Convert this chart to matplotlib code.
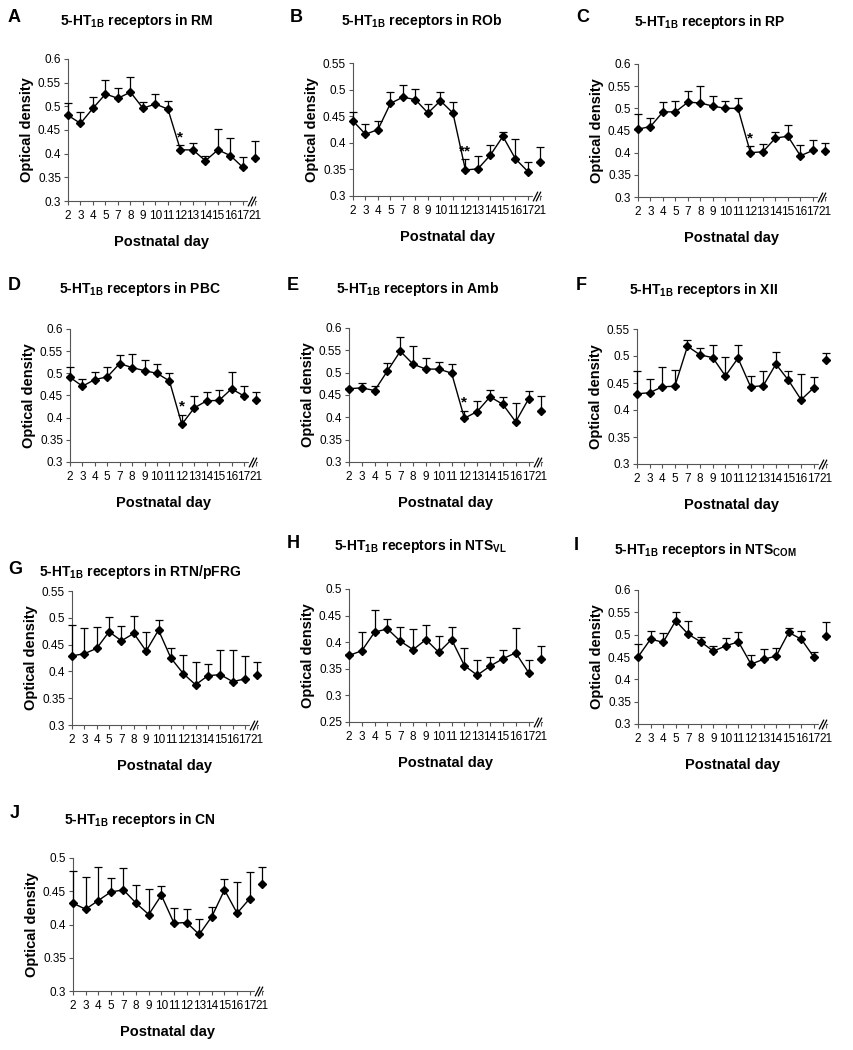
import matplotlib
matplotlib.use("Agg")
import matplotlib.pyplot as plt
import matplotlib.transforms as mtransforms
import numpy as np

plt.rcParams['font.family'] = ['Liberation Sans', 'DejaVu Sans']
plt.rcParams['mathtext.fontset'] = 'custom'
plt.rcParams['mathtext.rm'] = 'Liberation Sans:bold'
plt.rcParams['mathtext.bf'] = 'Liberation Sans:bold'

# ---------------- data ----------------
days = ['2', '3', '4', '5', '7', '8', '9', '10', '11', '12', '13', '14', '15', '16', '17', '21']

rm_mean = [0.481, 0.464, 0.496, 0.526, 0.517, 0.530, 0.496, 0.505, 0.494, 0.408, 0.408, 0.385, 0.408, 0.396, 0.371, 0.391]
rm_err = [0.025, 0.023, 0.023, 0.030, 0.022, 0.032, 0.014, 0.022, 0.018, 0.010, 0.014, 0.010, 0.045, 0.038, 0.022, 0.035]

rob_mean = [0.441, 0.416, 0.425, 0.474, 0.486, 0.481, 0.456, 0.479, 0.456, 0.349, 0.351, 0.377, 0.412, 0.370, 0.346, 0.363]
rob_err = [0.016, 0.020, 0.016, 0.022, 0.023, 0.021, 0.017, 0.016, 0.020, 0.020, 0.024, 0.019, 0.009, 0.037, 0.017, 0.029]

rp_mean = [0.453, 0.459, 0.492, 0.492, 0.514, 0.512, 0.505, 0.500, 0.500, 0.400, 0.402, 0.433, 0.437, 0.393, 0.405, 0.403]
rp_err = [0.035, 0.020, 0.022, 0.024, 0.024, 0.039, 0.023, 0.016, 0.023, 0.014, 0.017, 0.014, 0.026, 0.024, 0.023, 0.019]

pbc_mean = [0.491, 0.471, 0.486, 0.492, 0.522, 0.513, 0.506, 0.500, 0.483, 0.385, 0.422, 0.438, 0.439, 0.465, 0.449, 0.440]
pbc_err = [0.024, 0.016, 0.016, 0.023, 0.020, 0.031, 0.025, 0.022, 0.017, 0.022, 0.027, 0.020, 0.023, 0.038, 0.022, 0.018]

amb_mean = [0.464, 0.466, 0.460, 0.504, 0.548, 0.519, 0.508, 0.508, 0.499, 0.398, 0.413, 0.446, 0.429, 0.390, 0.441, 0.415]
amb_err = [0.002, 0.010, 0.010, 0.017, 0.031, 0.040, 0.024, 0.015, 0.020, 0.017, 0.024, 0.015, 0.017, 0.043, 0.018, 0.033]

xii_mean = [0.430, 0.432, 0.443, 0.444, 0.518, 0.502, 0.497, 0.463, 0.496, 0.443, 0.445, 0.485, 0.455, 0.419, 0.441, 0.492]
xii_err = [0.042, 0.026, 0.036, 0.030, 0.011, 0.012, 0.023, 0.035, 0.024, 0.020, 0.028, 0.022, 0.017, 0.048, 0.020, 0.013]

rtn_mean = [0.429, 0.433, 0.443, 0.474, 0.457, 0.471, 0.438, 0.477, 0.425, 0.396, 0.375, 0.392, 0.394, 0.381, 0.386, 0.394]
rtn_err = [0.057, 0.048, 0.039, 0.028, 0.027, 0.032, 0.035, 0.018, 0.019, 0.035, 0.042, 0.021, 0.046, 0.059, 0.043, 0.023]

ntsvl_mean = [0.375, 0.384, 0.419, 0.425, 0.402, 0.386, 0.405, 0.381, 0.405, 0.356, 0.338, 0.355, 0.369, 0.380, 0.343, 0.369]
ntsvl_err = [0.002, 0.035, 0.041, 0.019, 0.026, 0.039, 0.028, 0.030, 0.023, 0.033, 0.029, 0.018, 0.017, 0.047, 0.023, 0.024]

ntscom_mean = [0.450, 0.490, 0.483, 0.531, 0.501, 0.484, 0.463, 0.475, 0.484, 0.434, 0.445, 0.452, 0.505, 0.490, 0.450, 0.498]
ntscom_err = [0.028, 0.019, 0.020, 0.020, 0.030, 0.011, 0.012, 0.017, 0.021, 0.021, 0.022, 0.019, 0.009, 0.019, 0.011, 0.031]

cn_mean = [0.432, 0.423, 0.436, 0.449, 0.452, 0.432, 0.415, 0.444, 0.402, 0.403, 0.385, 0.412, 0.452, 0.417, 0.439, 0.461]
cn_err = [0.048, 0.049, 0.050, 0.021, 0.033, 0.028, 0.038, 0.014, 0.023, 0.021, 0.023, 0.014, 0.017, 0.047, 0.040, 0.026]

letters = ['A', 'B', 'C', 'D', 'E', 'F', 'G', 'H', 'I', 'J']
regions = ['RM', 'ROb', 'RP', 'PBC', 'Amb', 'XII', 'RTN/pFRG',
           r'NTS$_{\mathbf{VL}}$', r'NTS$_{\mathbf{COM}}$', 'CN']
means = [rm_mean, rob_mean, rp_mean, pbc_mean, amb_mean, xii_mean, rtn_mean, ntsvl_mean, ntscom_mean, cn_mean]
errs = [rm_err, rob_err, rp_err, pbc_err, amb_err, xii_err, rtn_err, ntsvl_err, ntscom_err, cn_err]
ylims = [(0.3, 0.6), (0.3, 0.55), (0.3, 0.6), (0.3, 0.6), (0.3, 0.6), (0.3, 0.55),
         (0.3, 0.55), (0.25, 0.5), (0.3, 0.6), (0.3, 0.5)]
stars = ['*', '**', '*', '*', '*', '', '', '', '', '']

# ---------------- layout (pixels) ----------------
W, H = 854, 1050
# left, right, top, bottom of plot areas
boxes = [(68, 256, 59, 201), (353, 541, 63, 196), (638, 826, 64, 197),
         (70, 257, 329, 462), (349, 542, 328, 462), (637, 827, 329, 464),
         (72, 258, 591, 725), (349, 542, 589, 722), (638, 827, 590, 724),
         (73, 263, 858, 991)]
letter_pos = [(8, 18), (290, 18), (576, 18), (8, 286), (287, 286), (576, 286),
              (8, 570), (287, 543), (574, 546), (10, 813)]
title_pos = [(137, 21), (422, 21), (710, 22), (140, 289), (418, 289), (703, 290),
             (140, 572), (420, 546), (705, 550), (140, 820)]

fig = plt.figure(figsize=(W / 100, H / 100), dpi=100)

for k in range(10):
    l, r, t, b = boxes[k]
    ax = fig.add_axes([l / W, 1 - b / H, (r - l) / W, (b - t) / H])
    x = np.arange(len(days))
    m = np.array(means[k])
    e = np.array(errs[k])
    # line for days 2..17, day 21 isolated
    ax.plot(x[:-1], m[:-1], color='black', lw=1.0, zorder=3)
    ax.errorbar(x, m, yerr=[np.zeros_like(e), e], fmt='none', ecolor='black',
                elinewidth=0.9, capsize=2.8, capthick=0.9, zorder=3, clip_on=False)
    ax.plot(x, m, ls='none', marker='D', markersize=4, color='black', zorder=4,
            clip_on=False)
    if stars[k]:
        ax.text(9, m[9] + e[9] + 0.002, stars[k], ha='center', va='bottom',
                fontsize=11, fontweight='bold')
    lo, hi = ylims[k]
    ax.set_ylim(lo, hi)
    ax.set_xlim(0, 15.05)
    yt = np.round(np.arange(lo, hi + 1e-9, 0.05), 2)
    ax.set_yticks(yt)
    ax.set_yticklabels([f"{v:g}" for v in yt])
    ax.set_xticks(x)
    ax.set_xticklabels(days)
    ax.tick_params(axis='both', direction='out', length=3, width=0.8,
                   labelsize=8.5)
    ax.tick_params(axis='x', pad=3.5)
    ax.tick_params(axis='y', pad=2)
    for s in ['top', 'right']:
        ax.spines[s].set_visible(False)
    for s in ['left', 'bottom']:
        ax.spines[s].set_linewidth(0.8)
        ax.spines[s].set_color('#555555')
    ax.tick_params(colors='#555555', labelcolor='black')
    # axis break marker between 17 and 21
    trans = mtransforms.blended_transform_factory(ax.transData, ax.transAxes)
    ax.plot([14.55, 14.8], [0, 0], color='white', lw=3, transform=trans,
            clip_on=False, zorder=6)
    ax.plot([14.55, 14.8], [0, 0], ls='none', marker=[(-0.5, -1), (0.5, 1)],
            markersize=7, mew=0.9, color='black', transform=trans,
            clip_on=False, zorder=7)
    ax.set_xlabel('Postnatal day', fontsize=10.5, fontweight='bold', labelpad=9)
    ax.set_ylabel('Optical density', fontsize=10.5, fontweight='bold', labelpad=3)
    lx, ly = letter_pos[k]
    fig.text(lx / W, 1 - ly / H, letters[k], fontsize=13, fontweight='bold',
             ha='left', va='center')
    tx, ty = title_pos[k]
    fig.text(tx / W, 1 - ty / H, '5-HT$_{\\mathbf{1B}}$ receptors in ' + regions[k],
             fontsize=10, fontweight='bold', ha='center', va='center')

fig.savefig('out.png', dpi=100)
